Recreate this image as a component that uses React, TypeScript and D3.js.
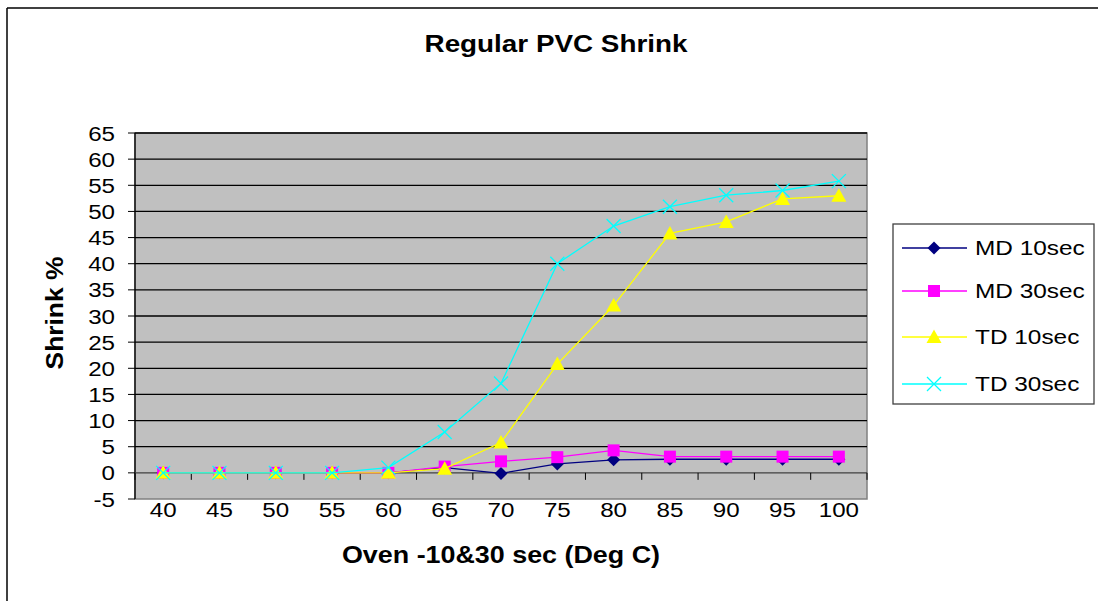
import React from 'react';
import * as d3 from 'd3';

const temps = ['40', '45', '50', '55', '60', '65', '70', '75', '80', '85', '90', '95', '100'];
const md10 = [0, 0, 0, 0, 0, 1, -0.1, 1.7, 2.5, 2.6, 2.6, 2.6, 2.6];
const md30 = [0, 0, 0, 0, 0, 1.2, 2.2, 3.0, 4.3, 3.1, 3.1, 3.1, 3.1];
const td10 = [0, 0, 0, 0, 0, 0.8, 5.8, 20.8, 32, 45.8, 48, 52.4, 53];
const td30 = [0, 0, 0, 0, 1, 7.8, 17.1, 40, 47.2, 50.9, 53.1, 54, 55.8];
const yTicks = [-5, 0, 5, 10, 15, 20, 25, 30, 35, 40, 45, 50, 55, 60, 65];

const series = [
  { name: 'MD 10sec', values: md10, color: '#000080', marker: 'diamond' },
  { name: 'MD 30sec', values: md30, color: '#FF00FF', marker: 'square' },
  { name: 'TD 10sec', values: td10, color: '#FFFF00', marker: 'triangle' },
  { name: 'TD 30sec', values: td30, color: '#00FFFF', marker: 'cross' },
];

const W = 1098;
const H = 601;
const plot = { left: 135, right: 867, top: 133, bottom: 499 };
const font = 'Liberation Sans, Arial, sans-serif';

// the original text is a little wider than Arial, so stretch it sideways
function Txt({ x, y, size, sx = 1.15, anchor = 'start', bold = false, rotate = 0, children }: any) {
  return (
    <text transform={`translate(${x},${y}) rotate(${rotate}) scale(${sx},1)`} textAnchor={anchor}
      fontFamily={font} fontSize={size} fontWeight={bold ? 'bold' : 'normal'}>
      {children}
    </text>
  );
}

function Marker({ type, x, y, color }: { type: string; x: number; y: number; color: string }) {
  if (type === 'diamond') {
    return <path d={`M${x},${y - 6.5}L${x + 6.5},${y}L${x},${y + 6.5}L${x - 6.5},${y}Z`} fill={color} />;
  }
  if (type === 'square') {
    return <rect x={x - 6} y={y - 6} width={12} height={12} fill={color} />;
  }
  if (type === 'triangle') {
    return <path d={`M${x},${y - 7.5}L${x + 7.5},${y + 6}L${x - 7.5},${y + 6}Z`} fill={color} />;
  }
  return (
    <g stroke={color} strokeWidth={1.3}>
      <line x1={x - 7} y1={y - 7} x2={x + 7} y2={y + 7} />
      <line x1={x - 7} y1={y + 7} x2={x + 7} y2={y - 7} />
    </g>
  );
}

export default function App() {
  const x = d3.scaleBand().domain(temps).range([plot.left, plot.right]);
  const y = d3.scaleLinear().domain([-5, 65]).range([plot.bottom, plot.top]);
  const cx = (t: string) => (x(t) as number) + x.bandwidth() / 2;

  const line = d3.line<number>()
    .x((_, i) => cx(temps[i]))
    .y(d => y(d));

  const boundaries = d3.range(temps.length + 1).map(i => plot.left + i * x.bandwidth());
  const legendY = [248, 291, 337, 384];

  return (
    <div style={{ position: 'fixed', left: 0, top: 0 }}>
      <svg width={W} height={H} style={{ display: 'block', background: '#fff' }}>
        {/* outer frame */}
        <line x1={7} y1={8} x2={W} y2={8} stroke="#000" strokeWidth={1.5} />
        <line x1={7} y1={8} x2={7} y2={H} stroke="#000" strokeWidth={1.5} />

        <Txt x={556} y={52} size={24} sx={1.16} anchor="middle" bold>Regular PVC Shrink</Txt>

        {/* plot area */}
        <rect x={plot.left} y={plot.top} width={plot.right - plot.left} height={plot.bottom - plot.top}
          fill="#C0C0C0" stroke="#808080" strokeWidth={1.5} />

        {yTicks.map(t => (
          <g key={t}>
            {t !== -5 && t !== 0 && (
              <line x1={plot.left} x2={plot.right} y1={y(t)} y2={y(t)} stroke="#000" strokeWidth={1.3} />
            )}
            <line x1={plot.left - 7} x2={plot.left} y1={y(t)} y2={y(t)} stroke="#000" strokeWidth={1} />
            <Txt x={115} y={y(t) + 7.5} size={21} anchor="end">{t}</Txt>
          </g>
        ))}
        <line x1={plot.left} x2={plot.left} y1={plot.top} y2={plot.bottom} stroke="#000" strokeWidth={1.3} />

        {/* x axis at y = 0 */}
        <line x1={plot.left} x2={plot.right} y1={y(0)} y2={y(0)} stroke="#404040" strokeWidth={1.3} />
        {boundaries.map((b, i) => (
          <line key={i} x1={b} x2={b} y1={y(0)} y2={y(0) + 7} stroke="#000" strokeWidth={1} />
        ))}
        {temps.map(t => (
          <Txt key={t} x={cx(t)} y={517} size={21} anchor="middle">{t}</Txt>
        ))}

        <Txt x={(plot.left + plot.right) / 2} y={563} size={24} sx={1.12} anchor="middle" bold>
          Oven -10&amp;30 sec (Deg C)
        </Txt>
        <Txt x={63} y={(plot.top + plot.bottom) / 2 - 3} size={24} sx={1.1} rotate={-90} anchor="middle" bold>
          Shrink %
        </Txt>

        {/* series */}
        {series.map(s => (
          <g key={s.name}>
            <path d={line(s.values) as string} fill="none" stroke={s.color} strokeWidth={1.3} />
            {s.values.map((v, i) => (
              <Marker key={i} type={s.marker} x={cx(temps[i])} y={y(v)} color={s.color} />
            ))}
          </g>
        ))}

        {/* legend */}
        <rect x={893} y={224} width={201} height={180} fill="#fff" stroke="#404040" strokeWidth={1.3} />
        {series.map((s, i) => (
          <g key={s.name}>
            <line x1={902} x2={967} y1={legendY[i]} y2={legendY[i]} stroke={s.color} strokeWidth={1.3} />
            <Marker type={s.marker} x={934} y={legendY[i]} color={s.color} />
            <Txt x={975} y={legendY[i] + 7} size={20} sx={1.22}>{s.name}</Txt>
          </g>
        ))}
      </svg>
    </div>
  );
}
